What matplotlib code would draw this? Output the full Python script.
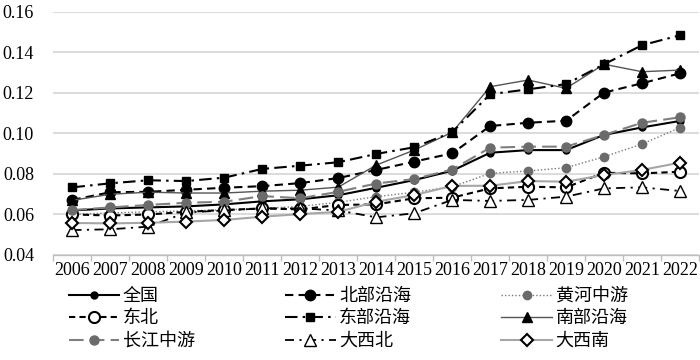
import matplotlib
matplotlib.use("Agg")
import matplotlib.pyplot as plt
from matplotlib.ticker import FixedLocator, NullFormatter

plt.rcParams['font.family'] = ['Liberation Serif', 'Noto Sans CJK SC']

# Data
years = [str(y) for y in range(2006, 2023)]

national = [0.0620, 0.0630, 0.0635, 0.0640, 0.0650, 0.0665, 0.0675, 0.0695, 0.0732, 0.0770,
            0.0816, 0.0905, 0.0918, 0.0918, 0.0993, 0.1030, 0.1062]
north_coast = [0.0672, 0.0710, 0.0712, 0.0722, 0.0732, 0.0740, 0.0755, 0.0780, 0.0820, 0.0861,
               0.0902, 0.1037, 0.1053, 0.1063, 0.1202, 0.1248, 0.1297]
yellow_mid = [0.0600, 0.0608, 0.0613, 0.0618, 0.0623, 0.0630, 0.0640, 0.0660, 0.0688, 0.0710,
              0.0737, 0.0803, 0.0815, 0.0831, 0.0885, 0.0948, 0.1029]
northeast = [0.0600, 0.0595, 0.0600, 0.0613, 0.0622, 0.0630, 0.0625, 0.0647, 0.0650, 0.0680,
             0.0683, 0.0729, 0.0737, 0.0734, 0.0806, 0.0803, 0.0811]
east_coast = [0.0734, 0.0754, 0.0769, 0.0765, 0.0782, 0.0825, 0.0841, 0.0858, 0.0899, 0.0932,
              0.1006, 0.1194, 0.1218, 0.1244, 0.1342, 0.1436, 0.1485]
south_coast = [0.0670, 0.0700, 0.0710, 0.0706, 0.0706, 0.0715, 0.0720, 0.0735, 0.0844, 0.0918,
               0.1006, 0.1231, 0.1264, 0.1223, 0.1342, 0.1305, 0.1313]
yangtze_mid = [0.0622, 0.0635, 0.0647, 0.0658, 0.0663, 0.0691, 0.0680, 0.0712, 0.0753, 0.0775,
               0.0822, 0.0930, 0.0935, 0.0935, 0.0993, 0.1053, 0.1080]
northwest = [0.0523, 0.0527, 0.0540, 0.0610, 0.0620, 0.0630, 0.0630, 0.0620, 0.0586, 0.0606,
             0.0672, 0.0667, 0.0672, 0.0688, 0.0729, 0.0734, 0.0716]
southwest = [0.0558, 0.0556, 0.0559, 0.0565, 0.0573, 0.0589, 0.0602, 0.0613, 0.0663, 0.0696,
             0.0741, 0.0742, 0.0765, 0.0762, 0.0795, 0.0820, 0.0856]

x = list(range(len(years)))

fig = plt.figure(figsize=(7, 3.6), dpi=100)
ax = fig.add_axes([0.0764, 0.2917, 0.9222, 0.675])

gray = "#6b6b6b"
lines = {}
lines['全国'] = ax.plot(x, national, color="black", lw=1.5, marker='o', ms=5,
                      mfc="black", mec="black")[0]
lines['北部沿海'] = ax.plot(x, north_coast, color="black", lw=1.5, ls=(0, (4, 2.5)), marker='o',
                        ms=7.5, mfc="black", mec="black")[0]
lines['黄河中游'] = ax.plot(x, yellow_mid, color="#7a7a7a", lw=1, ls=(0, (1, 1.5)), marker='o',
                        ms=6, mfc=gray, mec=gray)[0]
lines['东北'] = ax.plot(x, northeast, color="black", lw=1.5, ls=(0, (3, 2)), marker='o', ms=8,
                      mfc="white", mec="black", mew=1.5)[0]
lines['南部沿海'] = ax.plot(x, south_coast, color="#555555", lw=1, marker='^', ms=6.5,
                        mfc="black", mec="black")[0]
lines['东部沿海'] = ax.plot(x, east_coast, color="black", lw=1.5, ls=(0, (6, 2.5, 1.2, 2.5)),
                        marker='s', ms=6, mfc="black", mec="black")[0]
lines['长江中游'] = ax.plot(x, yangtze_mid, color="#7f7f7f", lw=1.5, ls=(0, (7, 3)), marker='o',
                        ms=6.5, mfc=gray, mec=gray)[0]
lines['大西北'] = ax.plot(x, northwest, color="black", lw=1.3, ls=(0, (5, 3, 1.2, 3)), marker='^',
                       ms=8, mfc="white", mec="black", mew=1)[0]
lines['大西南'] = ax.plot(x, southwest, color="#a6a6a6", lw=1.5, marker='D', ms=6,
                       mfc="white", mec="black", mew=1.5)[0]

ax.set_xlim(-0.5, len(years) - 0.5)
ax.set_ylim(0.04, 0.16)
ax.set_yticks([0.04, 0.06, 0.08, 0.10, 0.12, 0.14, 0.16])
ax.set_yticklabels(["0.04", "0.06", "0.08", "0.10", "0.12", "0.14", "0.16"])
ax.set_xticks(x)
ax.set_xticklabels(years)
ax.xaxis.set_minor_locator(FixedLocator([i - 0.5 for i in range(len(years) + 1)]))
ax.xaxis.set_minor_formatter(NullFormatter())
ax.tick_params(axis='x', which='major', length=0, pad=5, labelsize=13)
ax.tick_params(axis='x', which='minor', length=4, color="#bfbfbf", width=1)
ax.tick_params(axis='y', length=0, pad=14, labelsize=13)
ax.yaxis.grid(True, color="#d9d9d9", lw=1.3)
ax.set_axisbelow(True)
for s in ['top', 'right', 'left']:
    ax.spines[s].set_visible(False)
ax.spines['bottom'].set_color("#bfbfbf")
ax.spines['bottom'].set_linewidth(1)

# legend filled column by column
order = ['全国', '东北', '长江中游', '北部沿海', '东部沿海', '大西北', '黄河中游', '南部沿海', '大西南']
fig.legend([lines[k] for k in order], order, ncol=3, loc='upper left',
           bbox_to_anchor=(0.098, 0.2), frameon=False, fontsize=13, numpoints=1,
           handlelength=2.8, handletextpad=0.2, columnspacing=5.0, labelspacing=0.3,
           borderaxespad=0, borderpad=0)

fig.savefig("out.png", dpi=100)
